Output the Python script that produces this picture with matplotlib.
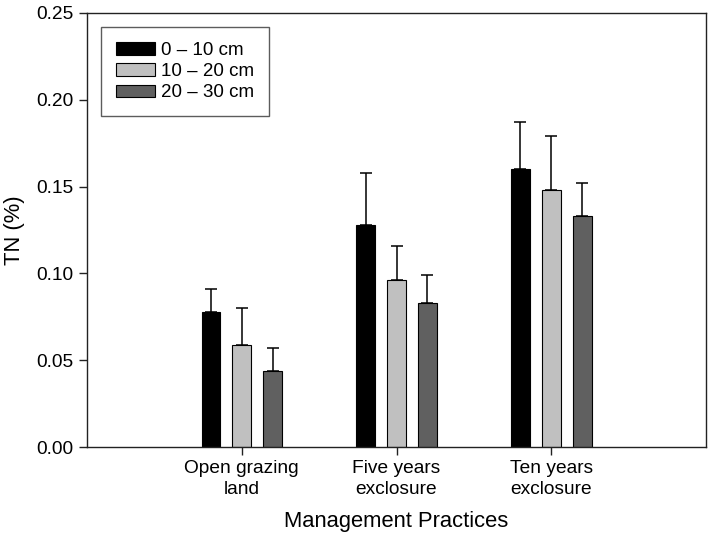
import numpy as np
import matplotlib
matplotlib.use('Agg')
import matplotlib.pyplot as plt

plt.rcParams['font.family'] = ['Liberation Sans', 'DejaVu Sans']

# Data
practices = ['Open grazing\nland', 'Five years\nexclosure', 'Ten years\nexclosure']
depths = ['0 \u2013 10 cm', '10 \u2013 20 cm', '20 \u2013 30 cm']
tn_0_10 = [0.078, 0.128, 0.160]
tn_10_20 = [0.059, 0.096, 0.148]
tn_20_30 = [0.044, 0.083, 0.133]
err_0_10 = [0.013, 0.030, 0.027]
err_10_20 = [0.021, 0.020, 0.031]
err_20_30 = [0.013, 0.016, 0.019]

colors = ['#000000', '#c0c0c0', '#606060']

fig = plt.figure(figsize=(7.09, 5.34), dpi=100)
ax = fig.add_axes([0.1227, 0.1629, 0.8731, 0.8128])

x = np.arange(1, len(practices) + 1)
width = 0.12
offsets = [-0.2, 0.0, 0.2]
series = [tn_0_10, tn_10_20, tn_20_30]
errors = [err_0_10, err_10_20, err_20_30]

for vals, errs, off, col, lab in zip(series, errors, offsets, colors, depths):
    ax.bar(x + off, vals, width, color=col, edgecolor='black', linewidth=0.8,
           label=lab, zorder=2)
    ax.errorbar(x + off, vals, yerr=[np.zeros(len(errs)), errs], fmt='none',
                ecolor='black', elinewidth=1.1, capsize=4.5, capthick=1.1, zorder=1)

ax.set_xlim(0, 4)
ax.set_ylim(0, 0.25)
ax.set_xticks(x)
ax.set_xticklabels(practices, fontsize=13.8, linespacing=1.3)
ax.set_yticks(np.arange(0, 0.26, 0.05))
ax.set_yticklabels([f'{v:.2f}' for v in np.arange(0, 0.26, 0.05)], fontsize=13.8)
ax.tick_params(direction='out', length=5.5, width=1, color='#222222', pad=4)
for s in ax.spines.values():
    s.set_linewidth(1)
    s.set_color('#222222')

ax.set_xlabel('Management Practices', fontsize=15.8, labelpad=9)
ax.set_ylabel('TN (%)', fontsize=15.8, labelpad=8)

leg = ax.legend(loc='upper left', fontsize=13.5, fancybox=False, frameon=True,
                edgecolor='#333333', handlelength=2.1, handleheight=0.62,
                labelspacing=0.22, borderaxespad=0.75, borderpad=0.8,
                handletextpad=0.3)
leg.get_frame().set_linewidth(1)

fig.savefig('out.png', dpi=100)
